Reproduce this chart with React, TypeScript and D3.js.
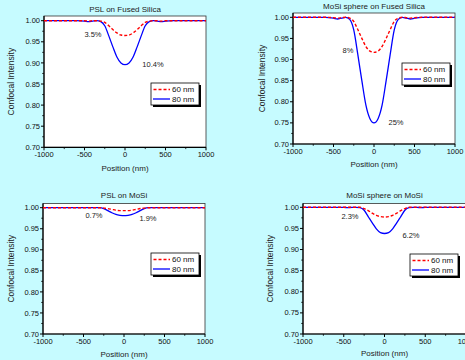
import React from "react";
import * as d3 from "d3";

// ---- data ----
const positions = [-1000, -800, -600, -500, -450, -400, -350, -300, -250, -200, -150, -100, -50, 0, 50, 100, 150, 200, 250, 300, 350, 400, 450, 500, 600, 800, 1000];

const pslFused80 = [1.0, 1.0, 1.0, 0.999, 0.998, 0.999, 1.0, 0.998, 0.988, 0.964, 0.938, 0.914, 0.9, 0.896, 0.9, 0.914, 0.938, 0.964, 0.988, 0.998, 1.0, 0.999, 0.998, 0.999, 1.0, 1.0, 1.0];
const pslFused60 = [1.0, 1.0, 1.0, 1.0, 0.999, 1.0, 1.0, 0.999, 0.996, 0.988, 0.979, 0.971, 0.966, 0.965, 0.966, 0.971, 0.979, 0.988, 0.996, 0.999, 1.0, 1.0, 0.999, 1.0, 1.0, 1.0, 1.0];
const mosiFused80 = [1.0, 1.0, 1.0, 0.998, 0.996, 0.998, 1.0, 0.995, 0.97, 0.912, 0.85, 0.792, 0.76, 0.75, 0.76, 0.792, 0.85, 0.912, 0.97, 0.995, 1.0, 0.998, 0.996, 0.998, 1.0, 1.0, 1.0];
const mosiFused60 = [1.0, 1.0, 1.0, 0.999, 0.998, 0.999, 1.0, 0.998, 0.99, 0.971, 0.95, 0.931, 0.92, 0.917, 0.92, 0.931, 0.95, 0.971, 0.99, 0.998, 1.0, 0.999, 0.998, 0.999, 1.0, 1.0, 1.0];
const pslMosi80 = [1.0, 1.0, 1.0, 1.0, 1.0, 1.0, 1.0, 1.0, 0.998, 0.993, 0.988, 0.984, 0.982, 0.981, 0.982, 0.984, 0.988, 0.993, 0.998, 1.0, 1.0, 1.0, 1.0, 1.0, 1.0, 1.0, 1.0];
const pslMosi60 = [1.0, 1.0, 1.0, 1.0, 1.0, 1.0, 1.0, 1.0, 0.999, 0.998, 0.996, 0.994, 0.993, 0.993, 0.993, 0.994, 0.996, 0.998, 0.999, 1.0, 1.0, 1.0, 1.0, 1.0, 1.0, 1.0, 1.0];
const mosiMosi80 = [1.0, 1.0, 1.0, 1.0, 0.999, 1.0, 1.0, 0.999, 0.993, 0.978, 0.963, 0.949, 0.94, 0.938, 0.94, 0.949, 0.963, 0.978, 0.993, 0.999, 1.0, 1.0, 0.999, 1.0, 1.0, 1.0, 1.0];
const mosiMosi60 = [1.0, 1.0, 1.0, 1.0, 1.0, 1.0, 1.0, 1.0, 0.997, 0.992, 0.986, 0.981, 0.978, 0.977, 0.978, 0.981, 0.986, 0.992, 0.997, 1.0, 1.0, 1.0, 1.0, 1.0, 1.0, 1.0, 1.0];

const titles = ["PSL on Fused Silica", "MoSi sphere on Fused Silica", "PSL on MoSi", "MoSi sphere on MoSi"];
const series60 = [pslFused60, mosiFused60, pslMosi60, mosiMosi60];
const series80 = [pslFused80, mosiFused80, pslMosi80, mosiMosi80];
const labels60 = ["3.5%", "8%", "0.7%", "2.3%"];
const labels80 = ["10.4%", "25%", "1.9%", "6.2%"];
const legendNames = ["60 nm", "80 nm"];
const xTicks = [-1000, -500, 0, 500, 1000];
const xMinor = [-750, -250, 250, 750];
const yTicks = [0.7, 0.75, 0.8, 0.85, 0.9, 0.95, 1.0];
const yMinor = [0.725, 0.775, 0.825, 0.875, 0.925, 0.975];

// ---- layout ----
const layouts = [
  { x0: 44, x1: 206, yTop: 20.7, yBot: 147.3, frameTop: 16, titleY: 12, xLabY: 171, yLabX: 14,
    leg: { x: 151, y: 83 }, l60: { x: 93, y: 37 }, l80: { x: 153, y: 67 } },
  { x0: 293, x1: 455, yTop: 17.3, yBot: 144, frameTop: 13, titleY: 9, xLabY: 167, yLabX: 265,
    leg: { x: 402, y: 63 }, l60: { x: 348, y: 53 }, l80: { x: 396, y: 125 } },
  { x0: 43, x1: 205, yTop: 207.7, yBot: 334, frameTop: 203.5, titleY: 198, xLabY: 357, yLabX: 14,
    leg: { x: 151, y: 253 }, l60: { x: 94, y: 218 }, l80: { x: 148, y: 221 } },
  { x0: 303, x1: 466, yTop: 207.3, yBot: 334, frameTop: 203.5, titleY: 198, xLabY: 356, yLabX: 273,
    leg: { x: 410, y: 254 }, l60: { x: 350, y: 219 }, l80: { x: 411, y: 238 } },
];

const FONT = "Liberation Sans, Arial, sans-serif";

function Panel({ i }: { i: number }) {
  const L = layouts[i];
  const x = d3.scaleLinear().domain([-1000, 1000]).range([L.x0, L.x1]);
  const y = d3.scaleLinear().domain([0.7, 1.0]).range([L.yBot, L.yTop]);
  const line = d3
    .line<number>()
    .x((_, k) => x(positions[k]))
    .y((v) => y(v))
    .curve(d3.curveMonotoneX);
  const cx = (L.x0 + L.x1) / 2;
  const cy = (L.frameTop + L.yBot) / 2;
  const lg = L.leg;
  const lw = 48, lh = 22;
  return (
    <g fontFamily={FONT}>
      <rect x={L.x0} y={L.frameTop} width={L.x1 - L.x0} height={L.yBot - L.frameTop} fill="#fff" stroke="#333" strokeWidth={0.8} />
      <text x={cx} y={L.titleY} textAnchor="middle" fontSize={8} fill="#222">{titles[i]}</text>
      {/* y axis */}
      <line x1={L.x0} x2={L.x0} y1={L.frameTop} y2={L.yBot} stroke="#000" strokeWidth={1.2} />
      {yTicks.map((t) => (
        <g key={"y" + t}>
          <line x1={L.x0 - 3} x2={L.x0} y1={y(t)} y2={y(t)} stroke="#000" strokeWidth={1} />
          <text x={L.x0 - 4} y={y(t) + 2.6} textAnchor="end" fontSize={7.5} fill="#111">{t.toFixed(2)}</text>
        </g>
      ))}
      {yMinor.map((t) => (
        <line key={"ym" + t} x1={L.x0 - 1.8} x2={L.x0} y1={y(t)} y2={y(t)} stroke="#000" strokeWidth={0.8} />
      ))}
      {/* x axis */}
      <line x1={L.x0} x2={L.x1} y1={L.yBot} y2={L.yBot} stroke="#000" strokeWidth={1.2} />
      {xTicks.map((t) => (
        <g key={"x" + t}>
          <line x1={x(t)} x2={x(t)} y1={L.yBot} y2={L.yBot + 3} stroke="#000" strokeWidth={1} />
          <text x={x(t)} y={L.yBot + 10} textAnchor="middle" fontSize={7.5} fill="#111">{t}</text>
        </g>
      ))}
      {xMinor.map((t) => (
        <line key={"xm" + t} x1={x(t)} x2={x(t)} y1={L.yBot} y2={L.yBot + 1.8} stroke="#000" strokeWidth={0.8} />
      ))}
      <text x={cx} y={L.xLabY} textAnchor="middle" fontSize={8} fill="#222">Position (nm)</text>
      <text transform={`translate(${L.yLabX},${cy}) rotate(-90)`} textAnchor="middle" fontSize={8.5} fill="#222">Confocal Intensity</text>
      {/* curves */}
      <path d={line(series80[i]) || ""} fill="none" stroke="#0000ff" strokeWidth={1.3} />
      <path d={line(series60[i]) || ""} fill="none" stroke="#ff0000" strokeWidth={1.4} strokeDasharray="3,2" />
      {/* percent labels */}
      <text x={L.l60.x} y={L.l60.y} textAnchor="middle" fontSize={7.5} fill="#222">{labels60[i]}</text>
      <text x={L.l80.x} y={L.l80.y} textAnchor="middle" fontSize={7.5} fill="#222">{labels80[i]}</text>
      {/* legend */}
      <rect x={lg.x + 2} y={lg.y + 2} width={lw} height={lh} fill="#000" />
      <rect x={lg.x} y={lg.y} width={lw} height={lh} fill="#fff" stroke="#000" strokeWidth={0.8} />
      <line x1={lg.x + 2.5} x2={lg.x + 19} y1={lg.y + 6.5} y2={lg.y + 6.5} stroke="#ff0000" strokeWidth={1.5} strokeDasharray="3,2" />
      <text x={lg.x + 21} y={lg.y + 9.3} fontSize={8} fill="#111">{legendNames[0]}</text>
      <line x1={lg.x + 2} x2={lg.x + 19} y1={lg.y + 16} y2={lg.y + 16} stroke="#0000ff" strokeWidth={1.3} />
      <text x={lg.x + 21} y={lg.y + 18.8} fontSize={8} fill="#111">{legendNames[1]}</text>
    </g>
  );
}

export default function App() {
  return (
    <svg width={465} height={360} style={{ position: "absolute", left: 0, top: 0, display: "block" }}>
      <rect width={465} height={360} fill="#c6fbff" />
      {[0, 1, 2, 3].map((i) => (
        <Panel key={i} i={i} />
      ))}
    </svg>
  );
}
